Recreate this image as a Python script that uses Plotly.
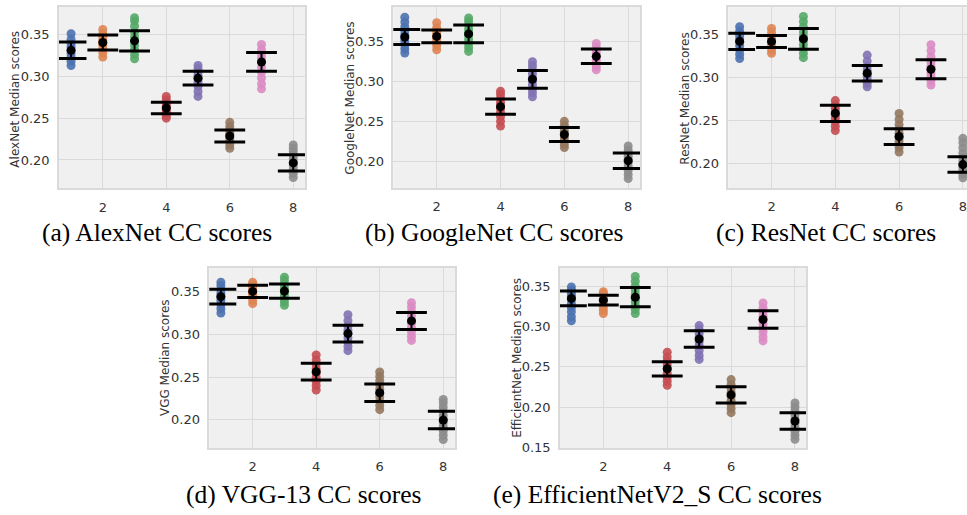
import plotly.graph_objects as go

W, H = 967, 515

categories = [1, 2, 3, 4, 5, 6, 7, 8]
palette = ["#4C72B0", "#DD8452", "#55A868", "#C44E52", "#8172B3", "#937860", "#DA8BC3", "#8C8C8C"]
x_tickvals = [2, 4, 6, 8]

# ---------------- (a) AlexNet ----------------
alexnet_points = [
    [0.313, 0.318, 0.323, 0.327, 0.331, 0.335, 0.339, 0.344, 0.351],
    [0.323, 0.328, 0.333, 0.337, 0.340, 0.343, 0.347, 0.351, 0.356],
    [0.321, 0.326, 0.332, 0.337, 0.342, 0.347, 0.353, 0.360, 0.366, 0.370],
    [0.250, 0.253, 0.257, 0.260, 0.262, 0.265, 0.268, 0.272, 0.276],
    [0.276, 0.282, 0.288, 0.293, 0.297, 0.301, 0.305, 0.309, 0.313],
    [0.214, 0.218, 0.222, 0.226, 0.229, 0.232, 0.236, 0.240, 0.245],
    [0.285, 0.291, 0.298, 0.305, 0.311, 0.317, 0.322, 0.327, 0.332, 0.338],
    [0.179, 0.184, 0.189, 0.193, 0.197, 0.201, 0.205, 0.210, 0.214, 0.218],
]
alexnet_mean = [0.3311, 0.3404, 0.3424, 0.2622, 0.2978, 0.2286, 0.3172, 0.1965]
alexnet_sd = [0.0098, 0.0089, 0.0121, 0.0069, 0.0083, 0.0071, 0.0112, 0.0096]

# ---------------- (b) GoogleNet ----------------
googlenet_points = [
    [0.336, 0.341, 0.346, 0.351, 0.355, 0.359, 0.364, 0.369, 0.375, 0.381],
    [0.340, 0.345, 0.349, 0.353, 0.356, 0.359, 0.363, 0.368, 0.374],
    [0.338, 0.343, 0.348, 0.353, 0.358, 0.362, 0.366, 0.371, 0.376, 0.380],
    [0.244, 0.250, 0.256, 0.261, 0.266, 0.270, 0.274, 0.279, 0.284, 0.288],
    [0.281, 0.286, 0.291, 0.296, 0.301, 0.305, 0.310, 0.315, 0.320, 0.325],
    [0.217, 0.221, 0.225, 0.229, 0.233, 0.237, 0.241, 0.245, 0.250],
    [0.315, 0.319, 0.323, 0.327, 0.331, 0.335, 0.339, 0.343, 0.348],
    [0.178, 0.183, 0.188, 0.193, 0.198, 0.202, 0.206, 0.210, 0.214, 0.219],
]
googlenet_mean = [0.3562, 0.3569, 0.3600, 0.2685, 0.3029, 0.2334, 0.3318, 0.2005]
googlenet_sd = [0.0095, 0.0081, 0.0112, 0.0096, 0.0112, 0.0087, 0.0091, 0.0098]

# ---------------- (c) ResNet ----------------
resnet_points = [
    [0.322, 0.327, 0.332, 0.337, 0.341, 0.345, 0.349, 0.354, 0.359],
    [0.328, 0.332, 0.336, 0.339, 0.341, 0.344, 0.348, 0.352, 0.357],
    [0.323, 0.328, 0.333, 0.338, 0.343, 0.348, 0.353, 0.359, 0.365, 0.371],
    [0.238, 0.243, 0.248, 0.252, 0.256, 0.260, 0.264, 0.268, 0.273],
    [0.289, 0.293, 0.297, 0.301, 0.304, 0.308, 0.313, 0.319, 0.326],
    [0.213, 0.218, 0.222, 0.226, 0.230, 0.235, 0.240, 0.245, 0.251, 0.258],
    [0.291, 0.296, 0.301, 0.305, 0.309, 0.313, 0.318, 0.324, 0.331, 0.338],
    [0.183, 0.187, 0.191, 0.195, 0.198, 0.202, 0.207, 0.212, 0.218, 0.224, 0.229],
]
resnet_mean = [0.3420, 0.3418, 0.3449, 0.2581, 0.3048, 0.2311, 0.3095, 0.1984]
resnet_sd = [0.0095, 0.0071, 0.0121, 0.0094, 0.0090, 0.0092, 0.0110, 0.0090]

# ---------------- (d) VGG-13 ----------------
vgg_points = [
    [0.325, 0.330, 0.335, 0.340, 0.344, 0.348, 0.352, 0.357, 0.361],
    [0.336, 0.340, 0.344, 0.347, 0.350, 0.353, 0.356, 0.359, 0.361],
    [0.334, 0.338, 0.342, 0.346, 0.350, 0.354, 0.358, 0.363, 0.367],
    [0.235, 0.240, 0.245, 0.250, 0.255, 0.260, 0.265, 0.270, 0.276],
    [0.281, 0.286, 0.291, 0.296, 0.301, 0.305, 0.310, 0.316, 0.323],
    [0.212, 0.217, 0.222, 0.227, 0.231, 0.236, 0.241, 0.246, 0.251, 0.256],
    [0.293, 0.298, 0.303, 0.308, 0.313, 0.317, 0.322, 0.327, 0.332, 0.337],
    [0.177, 0.182, 0.187, 0.192, 0.197, 0.201, 0.205, 0.210, 0.215, 0.220, 0.224],
]
vgg_mean = [0.3442, 0.3503, 0.3507, 0.2564, 0.3010, 0.2318, 0.3158, 0.1998]
vgg_sd = [0.0087, 0.0072, 0.0083, 0.0098, 0.0098, 0.0102, 0.0100, 0.0102]

# ---------------- (e) EfficientNetV2_S ----------------
efficientnet_points = [
    [0.307, 0.312, 0.318, 0.323, 0.328, 0.333, 0.337, 0.341, 0.345, 0.349],
    [0.316, 0.320, 0.324, 0.328, 0.332, 0.335, 0.338, 0.341, 0.343],
    [0.316, 0.321, 0.326, 0.331, 0.335, 0.340, 0.345, 0.350, 0.356, 0.362],
    [0.227, 0.232, 0.237, 0.242, 0.247, 0.252, 0.257, 0.262, 0.268],
    [0.259, 0.264, 0.270, 0.276, 0.281, 0.286, 0.291, 0.296, 0.301],
    [0.193, 0.198, 0.203, 0.208, 0.213, 0.218, 0.223, 0.228, 0.234],
    [0.282, 0.287, 0.293, 0.298, 0.303, 0.308, 0.313, 0.318, 0.323, 0.329],
    [0.160, 0.165, 0.170, 0.175, 0.180, 0.185, 0.190, 0.195, 0.200, 0.205],
]
efficientnet_mean = [0.3347, 0.3325, 0.3362, 0.2474, 0.2843, 0.2151, 0.3086, 0.1827]
efficientnet_sd = [0.0092, 0.0061, 0.0119, 0.0088, 0.0102, 0.0100, 0.0109, 0.0102]

y_titles = ["AlexNet Median scores", "GoogleNet Median scores", "ResNet Median scores",
            "VGG Median scores", "EfficientNet Median scores"]
captions = ["(a) AlexNet CC scores", "(b) GoogleNet CC scores", "(c) ResNet CC scores",
            "(d) VGG-13 CC scores", "(e) EfficientNetV2_S CC scores"]
y_tickvals = [
    [0.20, 0.25, 0.30, 0.35],
    [0.20, 0.25, 0.30, 0.35],
    [0.20, 0.25, 0.30, 0.35],
    [0.20, 0.25, 0.30, 0.35],
    [0.15, 0.20, 0.25, 0.30, 0.35],
]

panels = [
    (alexnet_points, alexnet_mean, alexnet_sd),
    (googlenet_points, googlenet_mean, googlenet_sd),
    (resnet_points, resnet_mean, resnet_sd),
    (vgg_points, vgg_mean, vgg_sd),
    (efficientnet_points, efficientnet_mean, efficientnet_sd),
]

# ---- layout geometry (pixels) ----
boxes = [
    (59, 305, 7, 191),
    (393.3, 640, 7, 190.7),
    (728.3, 967, 7.3, 190.7),
    (209.3, 455, 271.7, 454.3),
    (560, 806, 271.7, 454.3),
]
x_ranges = [[0.62, 8.37], [0.64, 8.37], [0.644, 8.13], [0.635, 8.37], [0.643, 8.345]]
y_ranges = [[0.166, 0.383], [0.166, 0.394], [0.171, 0.3818], [0.167, 0.3777], [0.149, 0.3724]]
ytitle_pos = [(15, 101), (350, 100), (685, 100), (165, 363), (516.7, 363)]
caption_pos = [(156.7, 236), (494, 236), (826, 236), (303, 501), (657.5, 501)]

fig = go.Figure()

TEXT = "#333333"
GRID = "#DADADA"

for i, (pts, means, sds) in enumerate(panels):
    n = "" if i == 0 else str(i + 1)
    xa, ya = "x" + n, "y" + n
    for k, cat in enumerate(categories):
        fig.add_trace(go.Scatter(
            x=[cat] * len(pts[k]), y=pts[k], xaxis=xa, yaxis=ya, mode="markers",
            marker=dict(size=9, color=palette[k], opacity=0.9, line=dict(width=0)),
            showlegend=False, hoverinfo="skip"))
    fig.add_trace(go.Scatter(
        x=categories, y=means, xaxis=xa, yaxis=ya, mode="markers",
        marker=dict(size=9, color="black"),
        error_y=dict(type="data", array=sds, visible=True, color="black", thickness=2, width=0),
        showlegend=False, hoverinfo="skip"))
    caps_x = categories + categories
    caps_y = [m + s for m, s in zip(means, sds)] + [m - s for m, s in zip(means, sds)]
    fig.add_trace(go.Scatter(
        x=caps_x, y=caps_y, xaxis=xa, yaxis=ya, mode="markers",
        marker=dict(symbol="line-ew", size=22, color="black", line=dict(width=3, color="black")),
        showlegend=False, hoverinfo="skip"))

    l, r, t, b = boxes[i]
    axis_common = dict(showgrid=True, gridcolor=GRID, gridwidth=1, zeroline=False,
                       showline=True, linecolor=GRID, linewidth=1.5,
                       tickfont=dict(family="DejaVu Sans", size=13, color=TEXT), ticks="")
    fig.layout["xaxis" + n] = dict(
        domain=[l / W, r / W], range=x_ranges[i], anchor=ya,
        tickvals=x_tickvals, mirror=True, ticklabelstandoff=6, **axis_common)
    fig.layout["yaxis" + n] = dict(
        domain=[1 - b / H, 1 - t / H], range=y_ranges[i], anchor=xa,
        tickvals=y_tickvals[i], tickformat=".2f", mirror=(i != 2),
        ticklabelstandoff=5, **axis_common)

    tx, ty = ytitle_pos[i]
    fig.add_annotation(x=tx / W, y=1 - ty / H, xref="paper", yref="paper",
                       text=y_titles[i], textangle=-90, showarrow=False,
                       font=dict(family="DejaVu Sans", size=12, color=TEXT),
                       xanchor="center", yanchor="middle")
    cx, cy = caption_pos[i]
    fig.add_annotation(x=cx / W, y=1 - cy / H, xref="paper", yref="paper",
                       text=captions[i], showarrow=False,
                       font=dict(family="Liberation Serif", size=25.5, color="black"),
                       xanchor="center", yanchor="middle")

fig.update_layout(
    width=W, height=H, margin=dict(l=0, r=0, t=0, b=0),
    paper_bgcolor="white", plot_bgcolor="#F0F0F0",
)

fig.write_html("out.html")
